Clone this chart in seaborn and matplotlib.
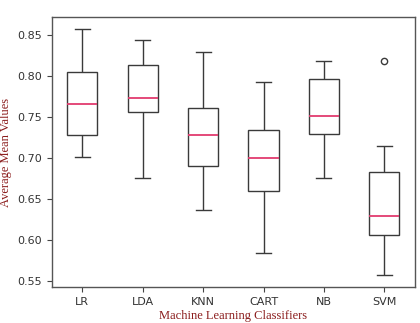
import matplotlib
matplotlib.use("Agg")
import matplotlib.pyplot as plt
import seaborn as sns
import pandas as pd

classifiers = ["LR", "LDA", "KNN", "CART", "NB", "SVM"]

# cross-validation scores per classifier
lr_scores   = [0.701, 0.715, 0.728, 0.748, 0.766, 0.785, 0.805, 0.830, 0.857]
lda_scores  = [0.676, 0.720, 0.756, 0.765, 0.773, 0.795, 0.814, 0.830, 0.844]
knn_scores  = [0.637, 0.665, 0.690, 0.710, 0.728, 0.745, 0.761, 0.800, 0.830]
cart_scores = [0.585, 0.625, 0.660, 0.680, 0.700, 0.718, 0.734, 0.765, 0.793]
nb_scores   = [0.676, 0.705, 0.730, 0.742, 0.752, 0.775, 0.796, 0.808, 0.818]
svm_scores  = [0.558, 0.585, 0.606, 0.618, 0.630, 0.655, 0.683, 0.715, 0.818]

all_scores = [lr_scores, lda_scores, knn_scores, cart_scores, nb_scores, svm_scores]

rows = []
for name, vals in zip(classifiers, all_scores):
    for v in vals:
        rows.append({"Classifier": name, "Score": v})
df = pd.DataFrame(rows)

fig = plt.figure(figsize=(4.2, 3.23), dpi=100)
ax = fig.add_axes([0.124, 0.111, 0.863, 0.836])

box_color = "#3a3a3a"
sns.boxplot(
    data=df, x="Classifier", y="Score", order=classifiers, ax=ax,
    color="white", linecolor=box_color, linewidth=1.0, width=0.5,
    medianprops={"color": "#e23a6e", "linewidth": 1.3},
    flierprops={"marker": "o", "markersize": 4.5, "markerfacecolor": "none",
                "markeredgecolor": box_color, "markeredgewidth": 1.0},
)

ax.set_ylim(0.543, 0.872)
ax.set_xlim(-0.5, 5.5)
ax.set_yticks([0.55, 0.60, 0.65, 0.70, 0.75, 0.80, 0.85])
ax.set_yticklabels(["0.55", "0.60", "0.65", "0.70", "0.75", "0.80", "0.85"])

for s in ax.spines.values():
    s.set_color("#555555")
    s.set_linewidth(1.0)
ax.tick_params(axis="both", labelsize=8, colors="#444444", labelcolor="#333333",
               length=3.5, direction="out")

ax.set_xlabel("Machine Learning Classifiers", family="Liberation Serif",
              fontsize=9, color="#8b1c1c", labelpad=2)
ax.set_ylabel("Average Mean Values", family="Liberation Serif",
              fontsize=9, color="#8b1c1c", labelpad=4)

fig.savefig("out.png", dpi=100)
